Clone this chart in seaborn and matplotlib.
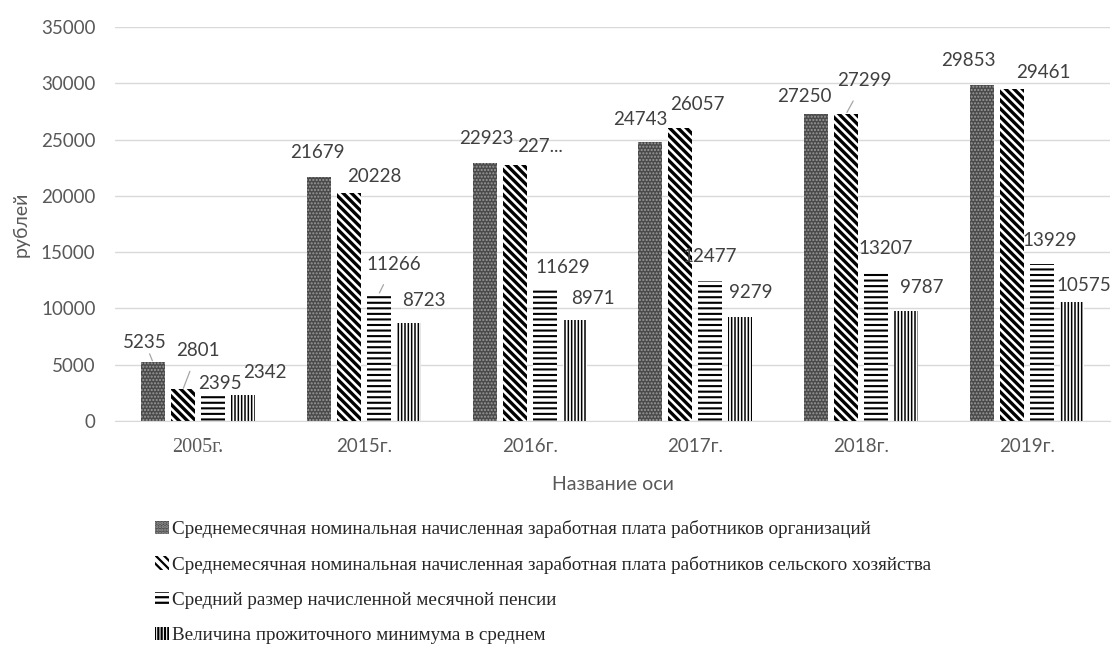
import matplotlib
matplotlib.use('Agg')
import matplotlib.pyplot as plt
import matplotlib.patches as mpatches
import pandas as pd
import seaborn as sns

sns.set_style('white')
plt.rcParams['hatch.linewidth'] = 1.6

years = ['2005г.', '2015г.', '2016г.', '2017г.', '2018г.', '2019г.']
series = [
    'Среднемесячная номинальная начисленная заработная плата работников организаций',
    'Среднемесячная номинальная начисленная заработная плата работников сельского хозяйства',
    'Средний размер начисленной месячной пенсии',
    'Величина прожиточного минимума в среднем',
]
wage_org = [5235, 21679, 22923, 24743, 27250, 29853]
wage_agri = [2801, 20228, 22700, 26057, 27299, 29461]
pension = [2395, 11266, 11629, 12477, 13207, 13929]
subsistence = [2342, 8723, 8971, 9279, 9787, 10575]
# the 2016 agri label is cut off in the source chart
label_override = {(1, 2): '227...'}

# label placement (px right, px up from bar top), like the moved Excel labels
label_shift = [
    [(-8, 20), (-1, 24), (2, 24), (-10, 23), (-12, 18), (-14, 24)],
    [(15, 39), (26, 17), (25, 19), (17, 23), (18, 33), (31, 17)],
    [(7, 11), (15, 30), (18, 23), (-1, 24), (9, 24), (8, 24)],
    [(22, 22), (15, 22), (18, 22), (10, 24), (15, 23), (12, 16)],
]
leaders = [(0, 0), (1, 0), (2, 1), (1, 4)]

styles = [
    dict(facecolor='#4a4a4a', edgecolor='#9a9a9a', hatch='.....'),
    dict(facecolor='white', edgecolor='black', hatch='\\\\\\\\'),
    dict(facecolor='white', edgecolor='black', hatch='---'),
    dict(facecolor='white', edgecolor='black', hatch='|||||'),
]
hatch_lw = [1.0, 2.4, 1.5, 1.1]

rows = []
for s, vals in zip(series, [wage_org, wage_agri, pension, subsistence]):
    for y, v in zip(years, vals):
        rows.append({'year': y, 'series': s, 'value': v})
df = pd.DataFrame(rows)

fig = plt.figure(figsize=(11.17, 6.46), dpi=100)
ax = fig.add_axes([115 / 1117, 1 - 421 / 646, 995 / 1117, 394 / 646])

sns.barplot(data=df, x='year', y='value', hue='series', hue_order=series,
            palette=['white'] * 4, width=0.724, gap=0.2, legend=False,
            errorbar=None, ax=ax)

grey = '#595959'
num_font = 'Lato'
for i, cont in enumerate(ax.containers):
    for j, bar in enumerate(cont):
        bar.set_facecolor(styles[i]['facecolor'])
        bar.set_edgecolor(styles[i]['edgecolor'])
        bar.set_hatch(styles[i]['hatch'])
        bar.set_linewidth(0)
        if hasattr(bar, 'set_hatch_linewidth'):
            bar.set_hatch_linewidth(hatch_lw[i])
        xc = bar.get_x() + bar.get_width() / 2
        top = bar.get_height()
        txt = label_override.get((i, j), str(int(top)))
        dx, dy = label_shift[i][j]
        arrow = None
        if (i, j) in leaders:
            arrow = dict(arrowstyle='-', color='#a6a6a6', lw=0.9,
                         shrinkA=7, shrinkB=1)
        ax.annotate(txt, xy=(xc, top), xytext=(dx, dy),
                    textcoords='offset pixels', ha='center', va='center',
                    fontsize=13.5, color='#404040', family=num_font,
                    arrowprops=arrow)

ax.set_ylim(0, 35000)
ax.set_xlim(-0.5, 5.5)
ax.set_yticks(range(0, 35001, 5000))
ax.yaxis.grid(True, color='#d9d9d9', lw=1)
ax.set_axisbelow(True)
for side in ['top', 'right', 'left']:
    ax.spines[side].set_visible(False)
ax.spines['bottom'].set_color('#d9d9d9')
ax.tick_params(axis='both', length=0, labelsize=13.5, labelcolor=grey)
ax.tick_params(axis='y', pad=14)
ax.tick_params(axis='x', pad=12)
for lab in ax.get_yticklabels() + ax.get_xticklabels():
    lab.set_family(num_font)
ax.get_xticklabels()[0].set_family('Liberation Serif')
ax.get_xticklabels()[0].set_fontsize(14.5)

ax.set_xlabel('Название оси', fontsize=14, color=grey, family=num_font, labelpad=14)
ax.set_ylabel('рублей', fontsize=14, color=grey, family=num_font, labelpad=8)

handles = []
for i, st in enumerate(styles):
    h = mpatches.Patch(linewidth=0, **st)
    if hasattr(h, 'set_hatch_linewidth'):
        h.set_hatch_linewidth(hatch_lw[i])
    handles.append(h)
fig.legend(handles, series, loc='upper left', bbox_to_anchor=(138 / 1117, 1 - 503 / 646),
           frameon=False, prop={'family': 'Liberation Serif', 'size': 13.8},
           handlelength=0.7, handleheight=0.7, handletextpad=0.2,
           labelspacing=0.92, labelcolor='#262626')

fig.savefig('out.png', dpi=100)
